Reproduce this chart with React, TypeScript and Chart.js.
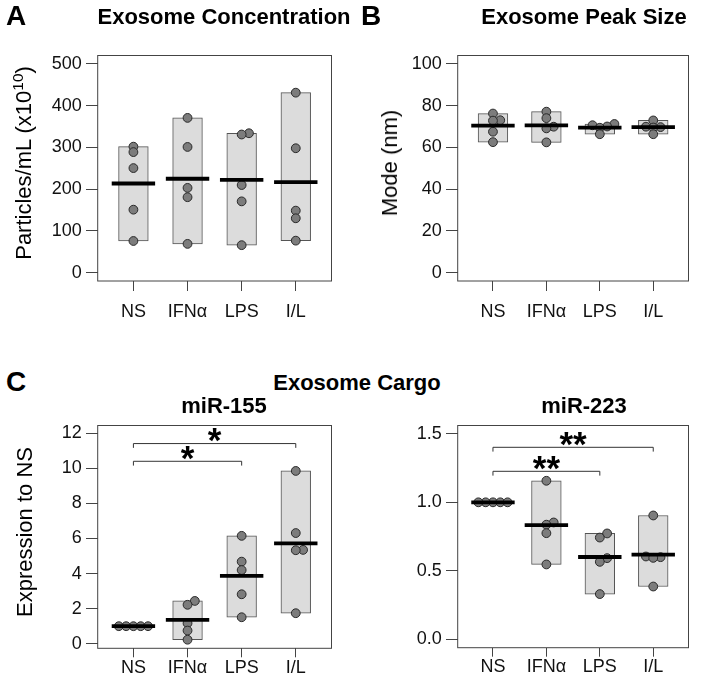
import React, { useEffect, useRef } from "react";
import { Chart, registerables } from "chart.js";
Chart.register(...registerables);

// ---------- data ----------
const categories = ["NS", "IFNα", "LPS", "I/L"];

const concNS = [301.7, 288.7, 250.4, 150.8, 75.8];
const concIFN = [370.6, 301.0, 203.0, 180.7, 68.9];
const concLPS = [333.8, 330.8, 209.8, 170.7, 65.8];
const concIL = [431.0, 297.9, 148.5, 130.2, 76.6];

const sizeNS = [76.2, 73.0, 72.8, 67.5, 62.5];
const sizeIFN = [77.1, 74.0, 69.9, 69.1, 62.4];
const sizeLPS = [71.2, 70.6, 70.0, 69.4, 66.3];
const sizeIL = [72.9, 69.9, 69.7, 69.5, 66.3];

const mir155NS = [1, 1, 1, 1, 1];
const mir155IFN = [2.44, 2.22, 1.17, 0.75, 0.23];
const mir155LPS = [6.15, 4.68, 4.2, 2.82, 1.51];
const mir155IL = [9.85, 6.31, 5.35, 5.33, 1.74];

const mir223NS = [1, 1, 1, 1, 1];
const mir223IFN = [1.157, 0.853, 0.837, 0.775, 0.547];
const mir223LPS = [0.773, 0.743, 0.593, 0.566, 0.331];
const mir223IL = [0.904, 0.605, 0.6, 0.595, 0.386];

const concTicks = [0, 100, 200, 300, 400, 500];
const sizeTicks = [0, 20, 40, 60, 80, 100];
const mir155Ticks = [0, 2, 4, 6, 8, 10, 12];
const mir223Ticks = [0, 0.5, 1.0, 1.5];

// significance brackets
const sig155From = [0, 0];
const sig155To = [2, 3];
const sig155Level = [10.4, 11.41];
const sig155Label = ["*", "*"];
const sig223From = [0, 0];
const sig223To = [2, 3];
const sig223Level = [1.226, 1.401];
const sig223Label = ["**", "**"];

// ---------- styling ----------
const FONT = "'Liberation Sans', Arial, Helvetica, sans-serif";
const TICK_FONT = 18;
const BAR_FILL = "#dcdcdc";
const BAR_EDGE = "#555555";
const PT_FILL = "#7c7c7c";
const PT_EDGE = "#2a2a2a";
const FRAME = "#444444";
const SWARM_STEP = 7.3; // px
const SWARM_THR = 4.5; // px

type Sig = { from: number; to: number; level: number; label: string };

type PanelDef = {
  groups: number[][];
  yMin: number;
  yMax: number;
  yTicks: number[];
  yDec: number;
  box: { left: number; top: number; width: number; height: number };
  area: { left: number; top: number; right: number; bottom: number };
  xTickLen: number;
  xPad: number;
  sig: Sig[];
};

function makeSig(f: number[], t: number[], l: number[], lab: string[]): Sig[] {
  return f.map((v, i) => ({ from: v, to: t[i], level: l[i], label: lab[i] }));
}

const panels: PanelDef[] = [
  {
    groups: [concNS, concIFN, concLPS, concIL],
    yMin: -20, yMax: 520, yTicks: concTicks, yDec: 0,
    box: { left: 0, top: 30, width: 357, height: 300 },
    area: { left: 97.7, top: 15.6, right: 350.5, bottom: 251 },
    xTickLen: 10, xPad: 10.5, sig: [],
  },
  {
    groups: [sizeNS, sizeIFN, sizeLPS, sizeIL],
    yMin: -4, yMax: 104, yTicks: sizeTicks, yDec: 0,
    box: { left: 360, top: 30, width: 354, height: 300 },
    area: { left: 97.7, top: 15, right: 350, bottom: 251 },
    xTickLen: 10, xPad: 10.5, sig: [],
  },
  {
    groups: [mir155NS, mir155IFN, mir155LPS, mir155IL],
    yMin: -0.26, yMax: 12.44, yTicks: mir155Ticks, yDec: 0,
    box: { left: 0, top: 400, width: 357, height: 287 },
    area: { left: 97.7, top: 12.3, right: 350.5, bottom: 248.3 },
    xTickLen: 9, xPad: 0,
    sig: makeSig(sig155From, sig155To, sig155Level, sig155Label),
  },
  {
    groups: [mir223NS, mir223IFN, mir223LPS, mir223IL],
    yMin: -0.06, yMax: 1.56, yTicks: mir223Ticks, yDec: 1,
    box: { left: 360, top: 400, width: 354, height: 287 },
    area: { left: 97.7, top: 12.3, right: 350, bottom: 247.7 },
    xTickLen: 9, xPad: 0,
    sig: makeSig(sig223From, sig223To, sig223Level, sig223Label),
  },
];

const mean = (a: number[]) => a.reduce((s, v) => s + v, 0) / a.length;

function swarm(values: number[], toPx: (v: number) => number): number[] {
  const idx = values.map((_, i) => i).sort((a, b) => values[a] - values[b]);
  const placed: { k: number; py: number }[] = [];
  const off = values.map(() => 0);
  const cands = [0, 1, -1, 2, -2, 3, -3, 4, -4];
  for (const i of idx) {
    const py = toPx(values[i]);
    for (const k of cands) {
      if (!placed.some((p) => p.k === k && Math.abs(p.py - py) < SWARM_THR)) {
        off[i] = k;
        placed.push({ k, py });
        break;
      }
    }
  }
  return off;
}

const framePlugin = {
  id: "frame",
  afterDraw(chart: any, _args: any, opts: any) {
    const { ctx, chartArea: a } = chart;
    ctx.save();
    ctx.strokeStyle = FRAME;
    ctx.lineWidth = 1;
    ctx.strokeRect(a.left, a.top, a.right - a.left, a.bottom - a.top);
    const sig: Sig[] = (opts && opts.sig) || [];
    const xs = chart.scales.x;
    const ys = chart.scales.y;
    for (const s of sig) {
      const x1 = xs.getPixelForValue(s.from + 1);
      const x2 = xs.getPixelForValue(s.to + 1);
      const y = ys.getPixelForValue(s.level);
      ctx.strokeStyle = "#333";
      ctx.lineWidth = 1;
      ctx.beginPath();
      ctx.moveTo(x1, y + 4.3);
      ctx.lineTo(x1, y);
      ctx.lineTo(x2, y);
      ctx.lineTo(x2, y + 4.3);
      ctx.stroke();
      ctx.fillStyle = "#000";
      ctx.font = `bold 35px ${FONT}`;
      ctx.textAlign = "center";
      ctx.textBaseline = "alphabetic";
      const m = ctx.measureText(s.label);
      const bottomTarget = y - 1.5;
      const baseline = bottomTarget - m.actualBoundingBoxDescent;
      ctx.fillText(s.label, (x1 + x2) / 2, baseline);
    }
    ctx.restore();
  },
};

function buildChart(canvas: HTMLCanvasElement, p: PanelDef): Chart {
  const barData = p.groups.map((g, i) => ({ x: i + 1, y: [Math.min(...g), Math.max(...g)] }));
  const ptData: { x: number; y: number }[] = [];
  p.groups.forEach((g, i) => g.forEach((v) => ptData.push({ x: i + 1, y: v })));
  const meanData = p.groups.map((g, i) => ({ x: i + 1, y: mean(g) }));
  const xAxisH = p.box.height - p.area.bottom;

  const chart = new Chart(canvas, {
    type: "scatter",
    data: {
      datasets: [
        {
          type: "bar",
          data: barData as any,
          backgroundColor: BAR_FILL,
          borderColor: BAR_EDGE,
          borderWidth: 1,
          borderSkipped: false,
          barThickness: 29.7,
          order: 3,
        } as any,
        {
          type: "scatter",
          data: ptData,
          pointRadius: 4.4,
          pointBackgroundColor: PT_FILL,
          pointBorderColor: PT_EDGE,
          pointBorderWidth: 1,
          order: 2,
        } as any,
        {
          type: "scatter",
          data: meanData,
          pointStyle: "line",
          pointRadius: 21.7,
          pointBorderWidth: 3.8,
          pointBorderColor: "#000",
          borderColor: "#000",
          order: 1,
        } as any,
      ],
    },
    options: {
      animation: false,
      responsive: false,
      events: [],
      layout: {
        padding: {
          left: 0,
          top: p.area.top,
          right: p.box.width - p.area.right,
          bottom: 0,
        },
      },
      plugins: {
        legend: { display: false },
        tooltip: { enabled: false },
        title: { display: false },
        frame: { sig: p.sig },
      } as any,
      scales: {
        x: {
          type: "linear",
          min: 0.34,
          max: 4.66,
          offset: false,
          afterBuildTicks: (s: any) => {
            s.ticks = categories.map((_, i) => ({ value: i + 1 }));
          },
          afterFit: (s: any) => {
            s.height = xAxisH;
          },
          ticks: {
            autoSkip: false,
            maxRotation: 0,
            padding: p.xPad,
            color: "#111",
            font: { family: FONT, size: TICK_FONT },
            callback: (v: any) => categories[Math.round(Number(v)) - 1] ?? "",
          },
          grid: {
            drawOnChartArea: false,
            offset: false,
            tickLength: p.xTickLen,
            color: "#444",
          },
          border: { display: false },
        },
        y: {
          type: "linear",
          min: p.yMin,
          max: p.yMax,
          afterBuildTicks: (s: any) => {
            s.ticks = p.yTicks.map((value) => ({ value }));
          },
          afterFit: (s: any) => {
            s.width = p.area.left;
          },
          ticks: {
            autoSkip: false,
            padding: 4.3,
            color: "#111",
            font: { family: FONT, size: TICK_FONT },
            callback: (v: any) => Number(v).toFixed(p.yDec),
          },
          grid: {
            drawOnChartArea: false,
            tickLength: 11.7,
            color: "#444",
          },
          border: { display: false },
        },
      },
    } as any,
    plugins: [framePlugin as any],
  });

  // beeswarm-style horizontal spreading of the points
  const xs = chart.scales.x;
  const ys = chart.scales.y;
  const unit = xs.getPixelForValue(2) - xs.getPixelForValue(1);
  const step = SWARM_STEP / unit;
  const newPts: { x: number; y: number }[] = [];
  p.groups.forEach((g, i) => {
    const off = swarm(g, (v) => ys.getPixelForValue(v));
    g.forEach((v, j) => newPts.push({ x: i + 1 + off[j] * step, y: v }));
  });
  (chart.data.datasets[1] as any).data = newPts;
  chart.update("none");
  return chart;
}

const textBase: React.CSSProperties = {
  position: "absolute",
  whiteSpace: "nowrap",
  fontFamily: FONT,
  color: "#000",
  lineHeight: "normal",
};

function Label(props: { x: number; y: number; size: number; bold?: boolean; rotate?: boolean; children: React.ReactNode }) {
  const { x, y, size, bold, rotate, children } = props;
  return (
    <div
      style={{
        ...textBase,
        left: x,
        top: y,
        fontSize: size,
        fontWeight: bold ? "bold" : "normal",
        transform: rotate ? "translate(-50%, -50%) rotate(-90deg)" : "translate(-50%, -50%)",
      }}
    >
      {children}
    </div>
  );
}

export default function App() {
  const refs = [
    useRef<HTMLCanvasElement>(null),
    useRef<HTMLCanvasElement>(null),
    useRef<HTMLCanvasElement>(null),
    useRef<HTMLCanvasElement>(null),
  ];

  useEffect(() => {
    const charts = panels.map((p, i) => buildChart(refs[i].current as HTMLCanvasElement, p));
    return () => charts.forEach((c) => c.destroy());
  }, []);

  return (
    <div
      style={{
        position: "absolute",
        left: 0,
        top: 0,
        width: 714,
        height: 687,
        background: "#fff",
        overflow: "hidden",
        fontFamily: FONT,
      }}
    >
      {panels.map((p, i) => (
        <canvas
          key={i}
          ref={refs[i]}
          width={p.box.width}
          height={p.box.height}
          style={{
            position: "absolute",
            left: p.box.left,
            top: p.box.top,
            width: p.box.width,
            height: p.box.height,
          }}
        />
      ))}
      <Label x={16} y={16} size={28} bold>A</Label>
      <Label x={224} y={17} size={22} bold>Exosome Concentration</Label>
      <Label x={371} y={16} size={28} bold>B</Label>
      <Label x={584} y={17} size={22} bold>Exosome Peak Size</Label>
      <Label x={16} y={382} size={28} bold>C</Label>
      <Label x={357} y={383} size={22} bold>Exosome Cargo</Label>
      <Label x={224} y={406} size={22} bold>miR-155</Label>
      <Label x={584} y={406} size={22} bold>miR-223</Label>
      <Label x={22.5} y={163.3} size={22} rotate>
        Particles/mL (x10<sup style={{ fontSize: "70%" }}>10</sup>)
      </Label>
      <Label x={390} y={163} size={22} rotate>Mode (nm)</Label>
      <Label x={25} y={532} size={22} rotate>Expression to NS</Label>
    </div>
  );
}
